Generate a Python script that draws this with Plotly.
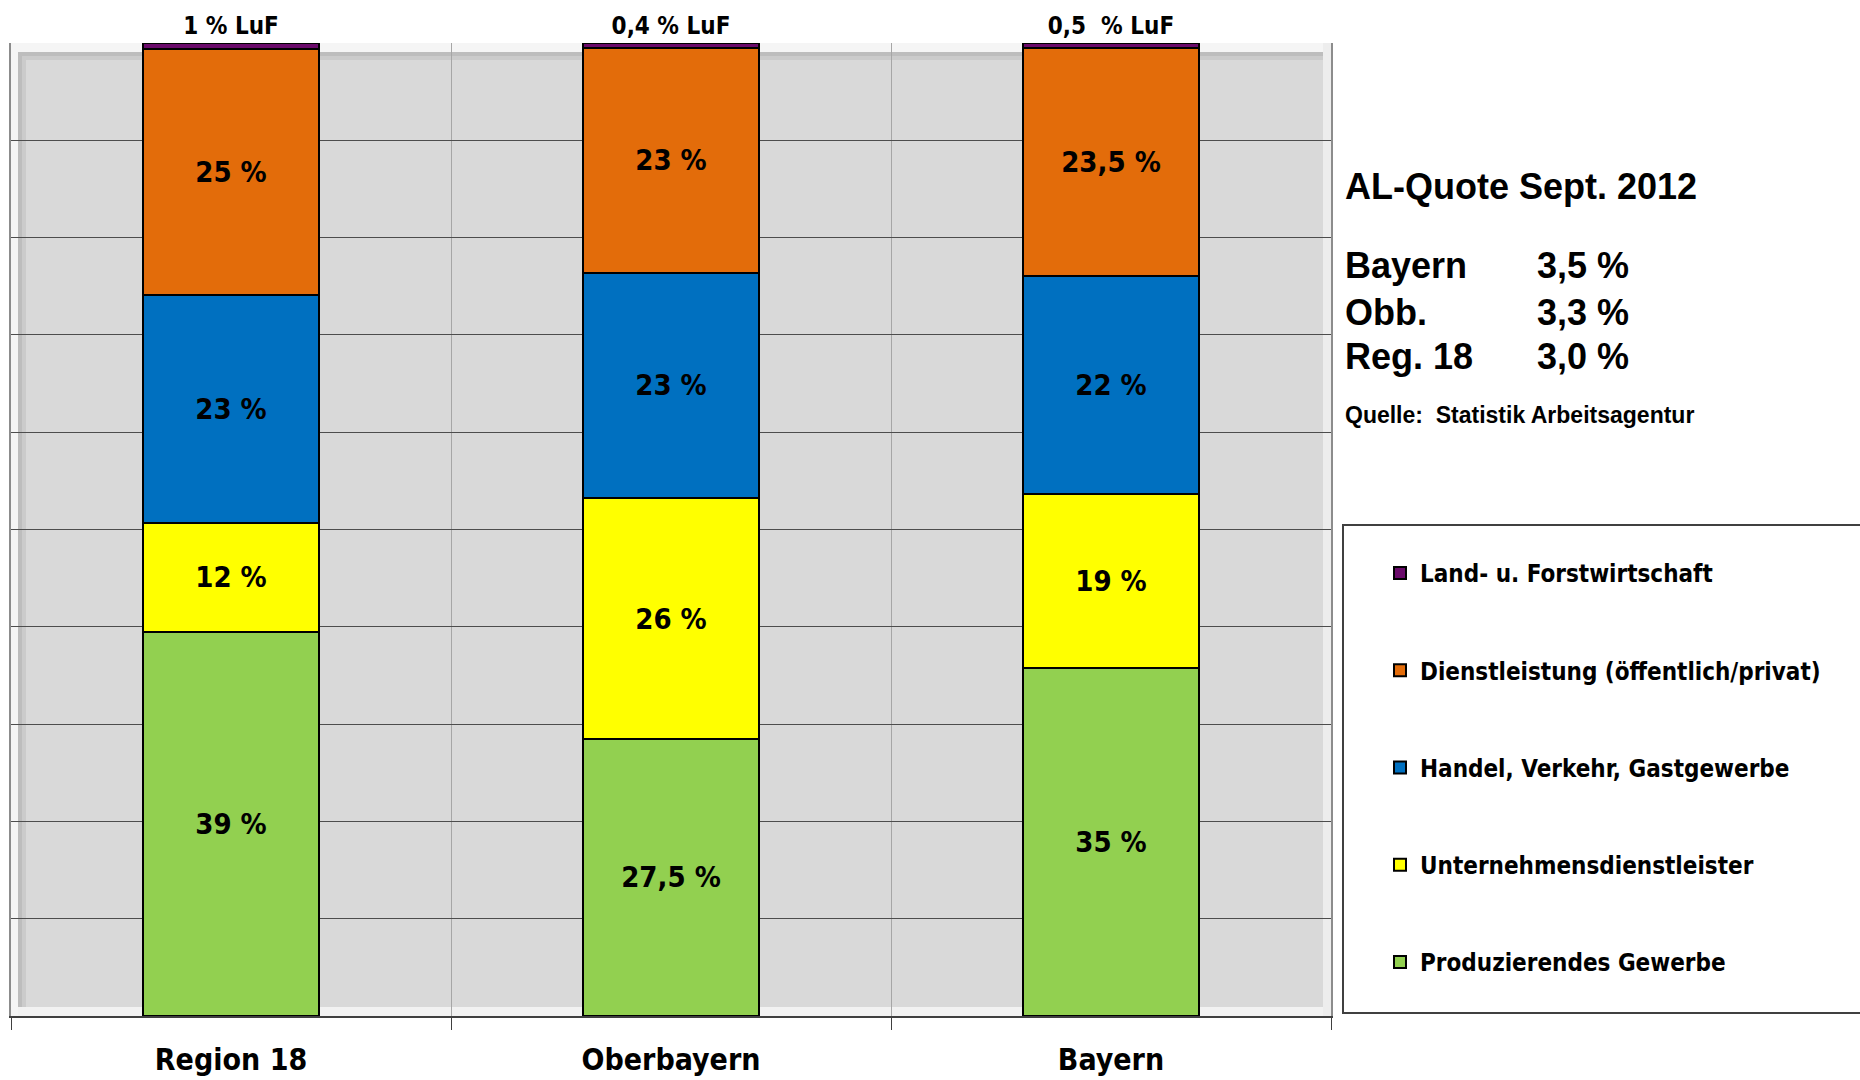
import plotly.graph_objects as go

# ---------------- data ----------------
categories = ["Region 18", "Oberbayern", "Bayern"]

series_names = [
    "Produzierendes Gewerbe",
    "Unternehmensdienstleister",
    "Handel, Verkehr, Gastgewerbe",
    "Dienstleistung (öffentlich/privat)",
    "Land- u. Forstwirtschaft",
]

produzierendes = [39.5, 28.5, 35.8]
unternehmens = [11.2, 24.7, 17.9]
handel = [23.4, 23.2, 22.4]
dienstleistung = [25.3, 23.1, 23.4]
landforst = [0.6, 0.5, 0.5]

produzierendes_lbl = ["39 %", "27,5 %", "35 %"]
unternehmens_lbl = ["12 %", "26 %", "19 %"]
handel_lbl = ["23 %", "23 %", "22 %"]
dienstleistung_lbl = ["25 %", "23 %", "23,5 %"]
landforst_lbl = ["1 % LuF", "0,4 % LuF", "0,5  % LuF"]

colors = ["#92D050", "#FFFF00", "#0070C0", "#E36C0A", "#6A0A6A"]

al_regions = ["Bayern", "Obb.", "Reg. 18"]
al_quotes = ["3,5 %", "3,3 %", "3,0 %"]

# ---------------- layout helpers ----------------
W, H = 1860, 1080
ML, MR, MT, MB = 11, 529, 43, 64
PW = W - ML - MR
PH = H - MT - MB
X0, X1, Y0, Y1 = ML, W - MR, MT, H - MB   # plot area in pixels


def px(x):
    return (x - ML) / PW


def py(y):
    return (H - MB - y) / PH


NARROW = "Liberation Sans Narrow, Arial Narrow, DejaVu Sans Condensed, sans-serif"
ARIAL = "Liberation Sans, Arial, sans-serif"

fig = go.Figure()

values = [produzierendes, unternehmens, handel, dienstleistung, landforst]
labels = [produzierendes_lbl, unternehmens_lbl, handel_lbl, dienstleistung_lbl, landforst_lbl]
n = len(series_names)

for i, (name, vals, lbls, col) in enumerate(zip(series_names, values, labels, colors)):
    top = i == n - 1
    fig.add_trace(
        go.Bar(
            x=categories,
            y=vals,
            name=f"<b>{name}</b>",
            legendgroup=name,
            legendrank=n - i,
            text=lbls,
            texttemplate="<b>%{text}</b>",
            textposition="outside" if top else "inside",
            insidetextanchor="middle",
            textangle=0,
            constraintext="none",
            cliponaxis=False,
            textfont=dict(family=NARROW, size=24 if top else 29, color="black"),
            marker=dict(color=col, line=dict(color="black", width=2)),
            width=0.4,
            hoverinfo="skip",
        )
    )


def prect(x0, x1, y0, y1, color, layer="below"):
    return dict(
        type="rect", xref="paper", yref="paper",
        x0=px(x0), x1=px(x1), y0=py(y1), y1=py(y0),
        line=dict(width=0), fillcolor=color, layer=layer,
    )


shapes = [
    # raised panel effect of the plot area (light rim + soft inner shadow)
    prect(X0, X1, Y0, Y0 + 9, "#F5F5F5"),
    prect(X0, X1, Y1 - 9, Y1, "#F2F2F2"),
    prect(X0, X0 + 7, Y0, Y1, "#F5F5F5"),
    prect(X1 - 8, X1, Y0, Y1, "#EDEDED"),
    prect(X0 + 7, X1 - 8, Y0 + 9, Y0 + 13, "#BDBDBD"),
    prect(X0 + 7, X1 - 8, Y0 + 13, Y0 + 17, "#CBCBCB"),
    prect(X0 + 7, X0 + 11, Y0 + 9, Y1 - 9, "#BDBDBD"),
    prect(X0 + 11, X0 + 15, Y0 + 13, Y1 - 9, "#CBCBCB"),
    # legend frame
    dict(
        type="rect", xref="paper", yref="paper",
        x0=px(1343), x1=px(1875), y0=py(1013), y1=py(525),
        line=dict(color="#404040", width=2), fillcolor="rgba(0,0,0,0)",
        layer="above",
    ),
]

annotations = [
    dict(
        text="<b>AL-Quote Sept. 2012</b>", xref="paper", yref="paper",
        x=px(1343), y=py(186), xanchor="left", yanchor="middle", showarrow=False,
        font=dict(family=ARIAL, size=36, color="black", weight="bold"),
    ),
    dict(
        text="<b>Quelle:  Statistik Arbeitsagentur</b>", xref="paper", yref="paper",
        x=px(1343), y=py(415), xanchor="left", yanchor="middle", showarrow=False,
        font=dict(family=ARIAL, size=23, color="black", weight="bold"),
    ),
]
row_y = [266, 312, 356]
for reg, q, yy in zip(al_regions, al_quotes, row_y):
    annotations.append(dict(
        text=f"<b>{reg}</b>", xref="paper", yref="paper",
        x=px(1343), y=py(yy), xanchor="left", yanchor="middle", showarrow=False,
        font=dict(family=ARIAL, size=36, color="black", weight="bold"),
    ))
    annotations.append(dict(
        text=f"<b>{q}</b>", xref="paper", yref="paper",
        x=px(1535), y=py(yy), xanchor="left", yanchor="middle", showarrow=False,
        font=dict(family=ARIAL, size=36, color="black", weight="bold"),
    ))

fig.update_layout(
    width=W, height=H,
    margin=dict(l=ML, r=MR, t=MT, b=MB, autoexpand=False),
    barmode="stack",
    paper_bgcolor="white",
    plot_bgcolor="#D9D9D9",
    showlegend=True,
    legend=dict(
        x=px(1380), y=py(551), xanchor="left", yanchor="top",
        traceorder="grouped",
        tracegroupgap=63,
        font=dict(family=NARROW, size=24, color="black"),
        bgcolor="rgba(0,0,0,0)", borderwidth=0,
        itemclick=False, itemdoubleclick=False,
    ),
    xaxis=dict(
        type="category",
        automargin=False,
        tickson="boundaries",
        ticks="outside", ticklen=12, tickcolor="#404040", tickwidth=1,
        showgrid=True, gridcolor="#A6A6A6", gridwidth=1,
        showline=True, linecolor="#404040", linewidth=2,
        tickfont=dict(family=NARROW, size=30, color="black"),
        ticklabelstandoff=16,
        fixedrange=True,
    ),
    yaxis=dict(
        range=[0, 100], dtick=10,
        automargin=False,
        showticklabels=False, ticks="",
        showgrid=True, gridcolor="#4D4D4D", gridwidth=1,
        zeroline=False,
        showline=True, linecolor="#8C8C8C", linewidth=2, mirror=True,
        fixedrange=True,
    ),
    shapes=shapes,
    annotations=annotations,
)

fig.update_xaxes(tickprefix="<b>", ticksuffix="</b>")

fig.write_html("out.html")
